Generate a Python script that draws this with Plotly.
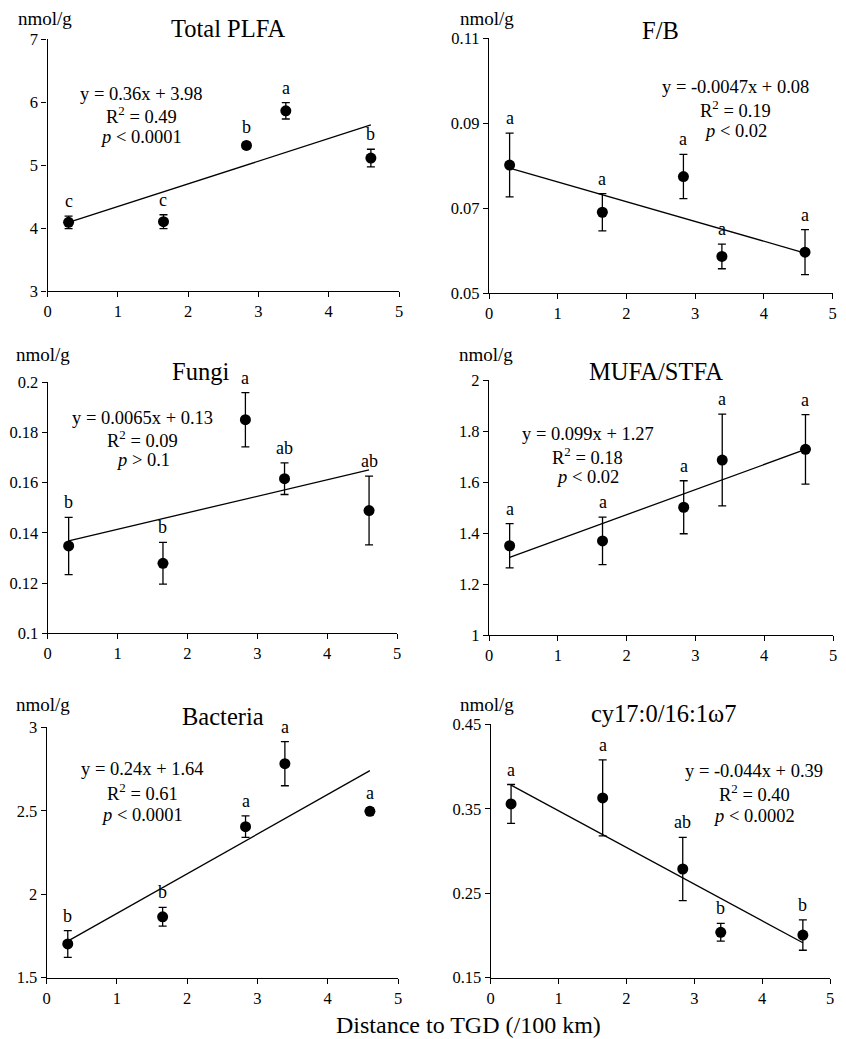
import plotly.graph_objects as go

PAGE_W, PAGE_H = 846, 1039
OFF = 8  # default page body margin
W, H = PAGE_W - OFF, PAGE_H - OFF
FONT = "Liberation Serif"

distance = [0.3, 1.65, 2.83, 3.39, 4.6]

titles = ["Total PLFA", "F/B", "Fungi", "MUFA/STFA", "Bacteria", "cy17:0/16:1ω7"]

total_plfa = [4.09, 4.10, 5.31, 5.86, 5.11]
total_plfa_err = [0.10, 0.11, 0.05, 0.13, 0.14]
fb = [0.0801, 0.0690, 0.0774, 0.0586, 0.0596]
fb_err = [0.0075, 0.0044, 0.0052, 0.0029, 0.0053]
fungi = [0.1348, 0.1279, 0.1851, 0.1616, 0.1489]
fungi_err = [0.0114, 0.0083, 0.0108, 0.0063, 0.0137]
mufa_stfa = [1.350, 1.369, 1.501, 1.686, 1.728]
mufa_stfa_err = [0.087, 0.093, 0.104, 0.180, 0.136]
bacteria = [1.702, 1.865, 2.405, 2.782, 2.497]
bacteria_err = [0.080, 0.056, 0.064, 0.132, 0.020]
cy_ratio = [0.3557, 0.3628, 0.2787, 0.2037, 0.2005]
cy_ratio_err = [0.023, 0.045, 0.0375, 0.0105, 0.018]

values = [total_plfa, fb, fungi, mufa_stfa, bacteria, cy_ratio]
errors = [total_plfa_err, fb_err, fungi_err, mufa_stfa_err, bacteria_err, cy_ratio_err]

letters = [
    ["c", "c", "b", "a", "b"],
    ["a", "a", "a", "a", "a"],
    ["b", "b", "a", "ab", "ab"],
    ["a", "a", "a", "a", "a"],
    ["b", "b", "a", "a", "a"],
    ["a", "a", "ab", "b", "b"],
]

# trend lines (slope, intercept) as drawn
slopes = [0.36, -0.00465, 0.00656, 0.0984, 0.2375, -0.0434]
intercepts = [3.98, 0.0808, 0.1349, 1.275, 1.648, 0.391]
equations = ["y = 0.36x + 3.98", "y = -0.0047x + 0.08", "y = 0.0065x + 0.13",
             "y = 0.099x + 1.27", "y = 0.24x + 1.64", "y = -0.044x + 0.39"]
r2_text = ["0.49", "0.19", "0.09", "0.18", "0.61", "0.40"]
p_text = ["&lt; 0.0001", "&lt; 0.02", "&gt; 0.1", "&lt; 0.02", "&lt; 0.0001", "&lt; 0.0002"]

x_ticks = [0, 1, 2, 3, 4, 5]
y_ticks = [
    [3, 4, 5, 6, 7],
    [0.05, 0.07, 0.09, 0.11],
    [0.1, 0.12, 0.14, 0.16, 0.18, 0.2],
    [1, 1.2, 1.4, 1.6, 1.8, 2],
    [1.5, 2, 2.5, 3],
    [0.15, 0.25, 0.35, 0.45],
]
y_tick_labels = [
    ["3", "4", "5", "6", "7"],
    ["0.05", "0.07", "0.09", "0.11"],
    ["0.1", "0.12", "0.14", "0.16", "0.18", "0.2"],
    ["1", "1.2", "1.4", "1.6", "1.8", "2"],
    ["1.5", "2", "2.5", "3"],
    ["0.15", "0.25", "0.35", "0.45"],
]
y_unit = "nmol/g"
x_title = "Distance to TGD (/100 km)"

# ---- layout geometry (page pixels) ----
dom_px = [
    (47.5, 399, 39, 291),
    (489, 832.5, 38, 293),
    (47.7, 397, 382.3, 633.3),
    (489, 833, 380, 635),
    (46.7, 398, 727.3, 977.7),
    (490.7, 830, 724.3, 977.7),
]
title_px = [(228, 28.3), (660, 30), (200, 371.7), (655.7, 371.7), (222.7, 716.7), (663.3, 713.3)]
unit_px = [(45, 18), (486.7, 18), (43, 355), (485.7, 355), (43, 704), (486.7, 704)]
eq_px = [
    (141, (94.3, 115, 136.7)),
    (735, (87.3, 109.3, 131)),
    (142.7, (418.3, 439.3, 460)),
    (587.5, (434.3, 455.7, 476.7)),
    (142, (769.3, 791.7, 815)),
    (754, (770.7, 792.7, 816)),
]


def px(x):
    return (x - OFF) / W


def py(y):
    return 1 - (y - OFF) / H


fig = go.Figure()
annotations = []
layout = {}

for i in range(6):
    xa = "x" if i == 0 else f"x{i+1}"
    ya = "y" if i == 0 else f"y{i+1}"
    xk = "xaxis" if i == 0 else f"xaxis{i+1}"
    yk = "yaxis" if i == 0 else f"yaxis{i+1}"
    x0, x1, y0, y1 = dom_px[i]
    yt = y_ticks[i]

    line_x = [distance[0], distance[-1]]
    line_y = [slopes[i] * v + intercepts[i] for v in line_x]
    fig.add_trace(go.Scatter(x=line_x, y=line_y, mode="lines",
                             line=dict(color="black", width=1.3),
                             xaxis=xa, yaxis=ya, showlegend=False, hoverinfo="skip"))
    fig.add_trace(go.Scatter(x=distance, y=values[i], mode="markers",
                             marker=dict(color="black", size=11),
                             error_y=dict(type="data", array=errors[i], visible=True,
                                          color="black", thickness=1.3, width=4),
                             xaxis=xa, yaxis=ya, showlegend=False))

    layout[xk] = dict(domain=[px(x0), px(x1)], range=[0, 5], anchor=ya,
                      tickvals=x_ticks, ticktext=[str(t) for t in x_ticks],
                      showline=True, linecolor="black", linewidth=1.3,
                      ticks="outside", ticklen=5, tickcolor="black", tickwidth=1.3,
                      showgrid=False, zeroline=False, automargin=False,
                      tickfont=dict(family=FONT, size=16.5, color="black"))
    layout[yk] = dict(domain=[py(y1), py(y0)], range=[yt[0], yt[-1]], anchor=xa,
                      tickvals=yt, ticktext=y_tick_labels[i],
                      showline=True, linecolor="black", linewidth=1.3,
                      ticks="outside", ticklen=5, tickcolor="black", tickwidth=1.3,
                      showgrid=False, zeroline=False, automargin=False,
                      tickfont=dict(family=FONT, size=16.5, color="black"))

    # significance letters
    for xv, yv, ev, lt in zip(distance, values[i], errors[i], letters[i]):
        annotations.append(dict(x=xv, y=yv + ev, xref=xa, yref=ya, text=lt,
                                showarrow=False, yanchor="bottom", yshift=3,
                                font=dict(family=FONT, size=18, color="black")))
    # title
    tx, ty = title_px[i]
    annotations.append(dict(x=px(tx), y=py(ty), xref="paper", yref="paper",
                            text=titles[i], showarrow=False, xanchor="center", yanchor="middle",
                            font=dict(family=FONT, size=24.5, color="black")))
    # unit
    ux, uy = unit_px[i]
    annotations.append(dict(x=px(ux), y=py(uy), xref="paper", yref="paper",
                            text=y_unit, showarrow=False, xanchor="center", yanchor="middle",
                            font=dict(family=FONT, size=19, color="black")))
    # equation block
    ex, eys = eq_px[i]
    lines = [equations[i], "R<sup>2</sup> = " + r2_text[i], "<i>p</i> " + p_text[i]]
    for txt, ey in zip(lines, eys):
        annotations.append(dict(x=px(ex), y=py(ey), xref="paper", yref="paper",
                                text=txt, showarrow=False, xanchor="center", yanchor="middle",
                                font=dict(family=FONT, size=18.5, color="black")))

annotations.append(dict(x=px(468.5), y=py(1025), xref="paper", yref="paper",
                        text=x_title, showarrow=False, xanchor="center", yanchor="middle",
                        font=dict(family=FONT, size=24, color="black")))

fig.update_layout(width=W, height=H,
                  margin=dict(l=0, r=0, t=0, b=0, pad=0, autoexpand=False),
                  paper_bgcolor="white", plot_bgcolor="white",
                  annotations=annotations, showlegend=False,
                  font=dict(family=FONT, color="black"), **layout)

fig.write_html("out.html")
